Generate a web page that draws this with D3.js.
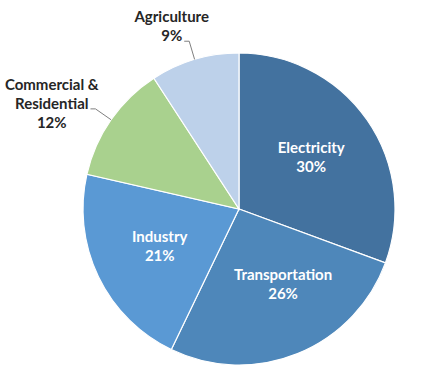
<!DOCTYPE html>
<html>
<head>
<meta charset="utf-8">
<script src="https://cdn.jsdelivr.net/npm/d3@7"></script>
<style>
  body { margin: 0; background: #fff; }
  text { font-family: Lato, "Open Sans", sans-serif; font-weight: bold; font-size: 15px; }
</style>
</head>
<body>
<svg width="424" height="384"></svg>
<script>
var categories = ["Electricity", "Transportation", "Industry", "Commercial & Residential", "Agriculture"];
var shares = [30, 26, 21, 12, 9];
var colors = ["#43729f", "#4e87ba", "#5a99d4", "#a9d18e", "#bdd1ea"];
var outside = ["Commercial & Residential", "Agriculture"];

var svg = d3.select("svg"),
  cx = 239,
  cy = 209,
  radius = 156,
  lineH = 19;

var data = categories.map(function(c, i) {
  return { name: c, value: shares[i], color: colors[i] };
});

var pie = d3.pie()
  .sort(null)
  .value(function(d) { return d.value; });

var arc = d3.arc().innerRadius(0).outerRadius(radius);

var g = svg.append("g")
  .attr("transform", "translate(" + cx + "," + cy + ")");

var slices = pie(data);

g.selectAll("path")
  .data(slices)
  .enter()
  .append("path")
  .attr("d", arc)
  .attr("fill", function(d) { return d.data.color; })
  .attr("stroke", "#fff")
  .attr("stroke-width", 1.2);

function lines(d) {
  return d.data.name.replace("& ", "&\n").split("\n").concat([d.data.value + "%"]);
}

// labels inside the pie
var nudge = { "Transportation": -8 * Math.PI / 180 };
var inner = d3.arc().innerRadius(88).outerRadius(88);

slices.filter(function(d) { return outside.indexOf(d.data.name) < 0; }).forEach(function(d) {
  var a = (d.startAngle + d.endAngle) / 2 + (nudge[d.data.name] || 0);
  var c = inner.centroid({ startAngle: a, endAngle: a });
  var ls = lines(d);
  var t = g.append("text")
    .attr("text-anchor", "middle")
    .attr("fill", "#fff");
  ls.forEach(function(s, i) {
    t.append("tspan")
      .attr("x", c[0])
      .attr("y", c[1] + (i - (ls.length - 1) / 2) * lineH + 4)
      .text(s);
  });
});

// labels outside, with leader lines
slices.filter(function(d) { return outside.indexOf(d.data.name) >= 0; }).forEach(function(d) {
  var a = (d.startAngle + d.endAngle) / 2;
  var p0 = [Math.sin(a) * radius, -Math.cos(a) * radius];
  var p1 = [Math.sin(a) * (radius + 19), -Math.cos(a) * (radius + 19)];
  var p2 = [p1[0] - 5, p1[1]];
  g.append("polyline")
    .attr("points", [p0, p1, p2].map(function(p) { return p.join(","); }).join(" "))
    .attr("fill", "none")
    .attr("stroke", "#7f7f7f")
    .attr("stroke-width", 1);

  var ls = lines(d);
  var k = Math.max(1, ls.length - 2); // line that sits on the leader
  var t = g.append("text")
    .attr("text-anchor", "middle")
    .attr("fill", "#262626");
  var spans = ls.map(function(s, i) {
    return t.append("tspan")
      .attr("y", p2[1] + (i - k) * lineH)
      .text(s);
  });
  var w = spans[k].node().getComputedTextLength();
  var x = p2[0] - 2 - w / 2;
  spans.forEach(function(s) { s.attr("x", x); });
});
</script>
</body>
</html>
